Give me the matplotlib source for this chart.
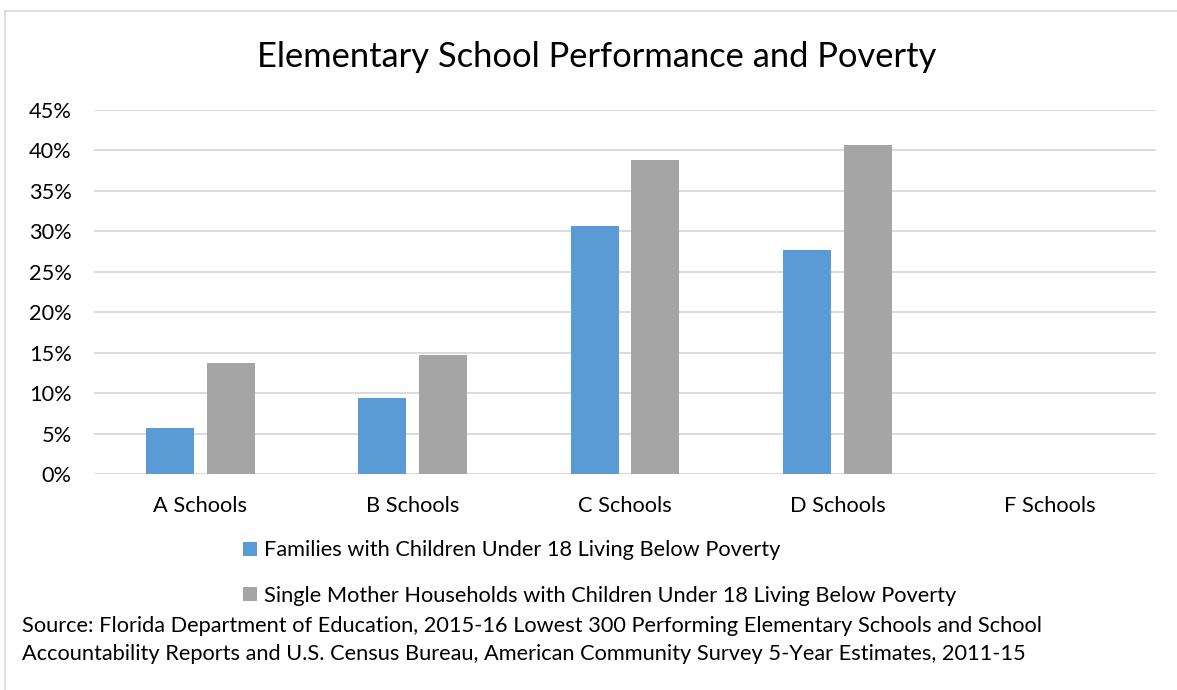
import matplotlib
matplotlib.use("Agg")
import matplotlib.pyplot as plt
from matplotlib.lines import Line2D
from matplotlib.patches import Patch
import numpy as np

plt.rcParams['font.family'] = ['Lato', 'DejaVu Sans']

categories = ["A Schools", "B Schools", "C Schools", "D Schools", "F Schools"]
families_poverty = [0.0569, 0.0935, 0.3066, 0.2765, 0.0]
single_mother_poverty = [0.1376, 0.1467, 0.3877, 0.4067, 0.0]
yticks = [0, 0.05, 0.10, 0.15, 0.20, 0.25, 0.30, 0.35, 0.40, 0.45]
series_names = ["Families with Children Under 18 Living Below Poverty",
                "Single Mother Households with Children Under 18 Living Below Poverty"]
title = "Elementary School Performance and Poverty"
source = ("Source: Florida Department of Education, 2015-16 Lowest 300 Performing Elementary Schools and School\n"
          "Accountability Reports and U.S. Census Bureau, American Community Survey 5-Year Estimates, 2011-15")

W, H = 1177, 690
fig = plt.figure(figsize=(W / 100, H / 100), dpi=100)
ax = fig.add_axes([94 / W, (H - 474) / H, (1156 - 94) / W, (474 - 110) / H])

blue = "#5B9BD5"
gray = "#A5A5A5"
fs = 15.7
x = np.arange(len(categories))
bw = 0.226
off = 0.143
ax.bar(x - off, families_poverty, bw, color=blue, zorder=3)
ax.bar(x + off, single_mother_poverty, bw, color=gray, zorder=3)

ax.set_xlim(-0.5, len(categories) - 0.5)
ax.set_ylim(0, 0.45)
ax.set_yticks(yticks)
ax.set_yticklabels([f"{int(round(v * 100))}%" for v in yticks])
ax.set_xticks(x)
ax.set_xticklabels(categories)
ax.tick_params(axis='both', length=0, labelsize=fs, colors="#000000")
ax.tick_params(axis='y', pad=16)
ax.tick_params(axis='x', pad=16)
ax.grid(axis='y', color="#D9D9D9", linewidth=1.3, zorder=0)
for s in ax.spines.values():
    s.set_visible(False)

fig.text(597 / W, 1 - 57 / H, title, ha='center', va='center', fontsize=24.8)

handles = [Patch(facecolor=blue), Patch(facecolor=gray)]
leg = fig.legend(handles, series_names, loc='center left', bbox_to_anchor=(243 / W, 1 - 573 / H),
                 frameon=False, fontsize=fs, handlelength=0.65, handleheight=0.65,
                 handletextpad=0.3, labelspacing=1.15, borderaxespad=0, borderpad=0)

fig.text(22 / W, 1 - 640 / H, source, ha='left', va='center', fontsize=fs, linespacing=1.5)

# chart area border (left and top)
fig.add_artist(Line2D([5 / W, 5 / W], [0, 1 - 11 / H], color="#D9D9D9", linewidth=1.2))
fig.add_artist(Line2D([5 / W, 1], [1 - 11 / H, 1 - 11 / H], color="#D9D9D9", linewidth=1.2))

fig.savefig("out.png", dpi=100, facecolor="white")
